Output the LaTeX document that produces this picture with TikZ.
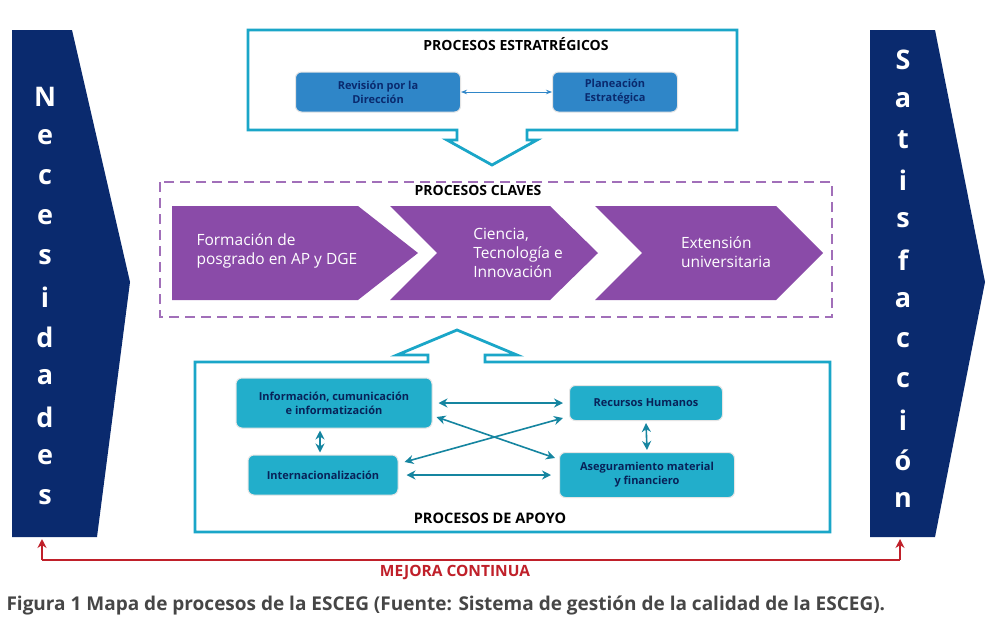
\documentclass[tikz,border=0pt]{standalone}
\usepackage{fontspec}
\setmainfont{Open Sans}
\usetikzlibrary{arrows.meta,calc}
\definecolor{navy}{HTML}{0A2A6E}
\definecolor{cy}{HTML}{1AA6C8}
\definecolor{cybox}{HTML}{22AECB}
\definecolor{bl}{HTML}{2F86C8}
\definecolor{pur}{HTML}{8A4BA8}
\definecolor{redl}{HTML}{C0202A}
\tikzset{
 x=1pt,y=-1pt,
 banner/.style={fill=navy,draw=none},
 blet/.style={text=white,font=\bfseries\fontsize{27}{27}\selectfont},
 outl/.style={draw=cy,line width=2.8pt,fill=white},
 sbox/.style={fill=bl,draw=white!80!gray,rounded corners=6pt,text=navy,font=\bfseries\fontsize{11}{14}\selectfont,align=center,line width=1pt},
 abox/.style={fill=cybox,draw=white!80!gray,rounded corners=6pt,text=navy!80!black,font=\bfseries\fontsize{11}{14}\selectfont,align=center,line width=1pt},
 chev/.style={fill=pur,draw=none},
 ctext/.style={text=white,font=\fontsize{15.5}{19}\selectfont,align=left},
 title/.style={font=\bfseries\fontsize{14}{16}\selectfont,text=black},
 dbl/.style={{Stealth[length=9pt,width=9pt]}-{Stealth[length=9pt,width=9pt]},draw=cy!80!black,line width=1.6pt},
}
\begin{document}
\begin{tikzpicture}
\useasboundingbox (0,0) rectangle (993,632);
\fill[white] (0,0) rectangle (993,632);
% banners
\fill[banner] (12,30)--(72,30)--(130,282)--(97,537)--(12,537)--cycle;
\fill[banner] (870,30)--(935,30)--(985,282)--(935,537)--(870,537)--cycle;
\foreach \c [count=\i] in {N,e,c,e,s,i,d,a,d,e,s}
  \node[blet] (n\i) at (45,57+40*\i) {\c};
\foreach \c [count=\i] in {S,a,t,i,s,f,a,c,c,i,ó,n}
  \node[blet] (s\i) at (903,20+40*\i) {\c};
% strategic
\draw[outl] (248,30)--(737,30)--(737,130)--(527,130)--(527,140)--(537,140)--(492,165)--(447,140)--(457,140)--(457,130)--(248,130)--cycle;
\node[title] (tst) at (516,44) {PROCESOS ESTRATRÉGICOS};
\node[sbox,minimum width=165pt,minimum height=40pt] (rev) at (378,92) {Revisión por la\\Dirección};
\node[sbox,minimum width=125pt,minimum height=40pt] (pla) at (615,92) {Planeación\\Estratégica};
\draw[{Stealth[length=6pt]}-{Stealth[length=6pt]},draw=bl,line width=0.8pt] (rev) -- (pla);
% claves
\draw[pur!80,dash pattern=on 10pt off 6pt,line width=1.6pt] (160,182) rectangle (832,317);
\node[title] (tcl) at (478,190) {PROCESOS CLAVES};
\fill[chev] (172,206)--(358,206)--(418,253)--(358,300)--(172,300)--cycle;
\fill[chev] (390,206)--(550,206)--(598,253)--(550,300)--(390,300)--(437,253)--cycle;
\fill[chev] (595,206)--(776,206)--(823,253)--(776,300)--(595,300)--(642,253)--cycle;
\node[ctext,anchor=west] (c1) at (193,251) {Formación de\\posgrado en AP y DGE};
\node[ctext,align=left] (c2) at (518,253) {Ciencia,\\Tecnología e\\Innovación};
\node[ctext,align=left] (c3) at (726,252) {Extensión\\universitaria};
% apoyo
\draw[outl] (195,362)--(428,362)--(428,355)--(397,355)--(457,330)--(517,355)--(485,355)--(485,362)--(830,362)--(830,532)--(195,532)--cycle;
\node[title,font=\bfseries\fontsize{14.5}{16}\selectfont] (tap) at (490,518) {PROCESOS DE APOYO};
\node[abox,minimum width=196pt,minimum height=50pt] (inf) at (334,403) {Información, cumunicación\\e informatización};
\node[abox,minimum width=153pt,minimum height=35pt] (rh) at (646,403) {Recursos Humanos};
\node[abox,minimum width=150pt,minimum height=40pt] (int) at (323,475) {Internacionalización};
\node[abox,minimum width=175pt,minimum height=45pt] (ase) at (647,475) {Aseguramiento material\\y financiero};
\draw[dbl] ($(inf.east)+(6,0)$) -- ($(rh.west)+(-6,0)$);
\draw[dbl] ($(int.east)+(8,0)$) -- ($(ase.west)+(-8,0)$);
\draw[dbl] ($(inf.east)+(4,14)$) -- ($(ase.west)+(-4,-17)$);
\draw[dbl] ($(int.east)+(6,-13)$) -- ($(rh.west)+(-6,15)$);
\path ($(int.north)+(-3,-2)$) coordinate (v2) ($(inf.south)+(-14,2)$) coordinate (v1);
\draw[dbl] (v1) -- (v2);
\draw[dbl] ($(rh.south)+(0,2)$) -- ($(ase.north)+(0,-2)$);
% mejora continua
\coordinate (m1) at (42,560); \coordinate (m2) at (900,560);
\draw[redl,line width=2pt,-{Stealth[length=9pt,width=9pt]}] (m1) -- (42,539);
\draw[redl,line width=2pt] (m1) -- (m2);
\draw[redl,line width=2pt,-{Stealth[length=9pt,width=9pt]}] (m2) -- (900,539);
\node[text=redl,font=\bfseries\fontsize{15.5}{18}\selectfont] (mc) at (455,572) {MEJORA CONTINUA};
\node[anchor=west,text=gray!55!black,font=\fontsize{19}{21}\selectfont] (cap) at (3,605) {\textbf{Figura 1} \textbf{Mapa de procesos de la ESCEG (Fuente: Sistema de gestión de la calidad de la ESCEG).}};
\end{tikzpicture}
\end{document}
